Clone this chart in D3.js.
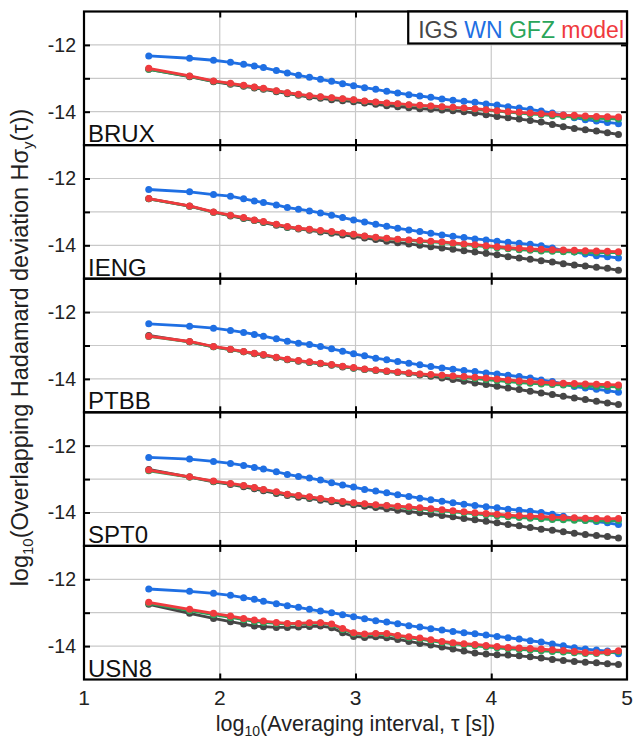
<!DOCTYPE html>
<html>
<head>
<meta charset="utf-8">
<script src="https://cdn.jsdelivr.net/npm/d3@7"></script>
<style>
  html, body { margin: 0; padding: 0; background: #fff; }
  svg { display: block; font-family: "Liberation Sans", Arial, Helvetica, sans-serif; }
</style>
</head>
<body>
<svg id="chart" width="633" height="739"></svg>
<script>
// log10 of averaging interval tau [s]
const logTau = [1.477, 1.778, 1.954, 2.079, 2.176, 2.255, 2.322,
  2.417, 2.498, 2.580, 2.661, 2.742, 2.824, 2.905, 2.986, 3.067, 3.149,
  3.230, 3.311, 3.393, 3.474, 3.555, 3.637, 3.718, 3.799, 3.880, 3.962,
  4.043, 4.124, 4.206, 4.287, 4.368, 4.450, 4.531, 4.612, 4.693, 4.775,
  4.856, 4.937];

const stations = ["BRUX", "IENG", "PTBB", "SPT0", "USN8"];
const seriesNames = ["IGS", "WN", "GFZ", "model"];
const seriesColors = ["#464646", "#1f6fe3", "#2aa55a", "#f03a3e"];

const xTicks = [1, 2, 3, 4, 5];
const yTicks = [-12, -13, -14];
const yTickLabels = ["-12", "", "-14"];

// log10 overlapping Hadamard deviation per station: IGS, WN, GFZ, model
const bruxIGS = [-12.73,-12.95,-13.10,-13.18,-13.24,-13.29,-13.33,-13.40,-13.46,-13.51,-13.56,-13.60,-13.64,-13.67,-13.70,-13.74,-13.78,-13.82,-13.85,-13.88,-13.91,-13.93,-13.95,-13.97,-14.00,-14.04,-14.09,-14.14,-14.18,-14.22,-14.26,-14.31,-14.38,-14.45,-14.50,-14.54,-14.58,-14.63,-14.68];
const bruxWN = [-12.33,-12.40,-12.46,-12.52,-12.58,-12.63,-12.68,-12.77,-12.84,-12.91,-12.97,-13.03,-13.09,-13.16,-13.22,-13.28,-13.33,-13.39,-13.44,-13.49,-13.53,-13.57,-13.62,-13.66,-13.69,-13.72,-13.77,-13.80,-13.85,-13.89,-13.93,-13.98,-14.04,-14.10,-14.18,-14.24,-14.28,-14.32,-14.36];
const bruxGFZ = [-12.73,-12.94,-13.09,-13.16,-13.22,-13.27,-13.31,-13.38,-13.44,-13.49,-13.53,-13.56,-13.59,-13.62,-13.65,-13.69,-13.72,-13.75,-13.77,-13.80,-13.82,-13.84,-13.86,-13.88,-13.90,-13.92,-13.95,-13.98,-14.01,-14.04,-14.07,-14.09,-14.12,-14.14,-14.16,-14.18,-14.20,-14.21,-14.22];
const bruxModel = [-12.70,-12.93,-13.08,-13.15,-13.21,-13.26,-13.30,-13.37,-13.43,-13.48,-13.52,-13.55,-13.58,-13.61,-13.64,-13.68,-13.71,-13.74,-13.76,-13.79,-13.81,-13.83,-13.85,-13.87,-13.89,-13.91,-13.94,-13.97,-14.00,-14.02,-14.04,-14.06,-14.08,-14.10,-14.11,-14.13,-14.14,-14.15,-14.16];

const iengIGS = [-12.61,-12.83,-13.01,-13.12,-13.20,-13.26,-13.32,-13.40,-13.47,-13.51,-13.55,-13.60,-13.64,-13.69,-13.73,-13.78,-13.83,-13.88,-13.92,-13.96,-14.00,-14.04,-14.08,-14.12,-14.16,-14.20,-14.24,-14.28,-14.34,-14.38,-14.42,-14.46,-14.50,-14.55,-14.59,-14.62,-14.66,-14.69,-14.75];
const iengWN = [-12.33,-12.40,-12.48,-12.53,-12.61,-12.67,-12.72,-12.79,-12.87,-12.92,-12.97,-13.03,-13.10,-13.17,-13.24,-13.30,-13.37,-13.43,-13.49,-13.54,-13.59,-13.64,-13.69,-13.73,-13.77,-13.81,-13.84,-13.88,-13.91,-13.94,-13.97,-14.01,-14.08,-14.16,-14.20,-14.26,-14.31,-14.34,-14.38];
const iengGFZ = [-12.61,-12.83,-13.01,-13.11,-13.18,-13.25,-13.30,-13.38,-13.45,-13.50,-13.53,-13.57,-13.60,-13.64,-13.68,-13.73,-13.77,-13.80,-13.83,-13.85,-13.88,-13.90,-13.92,-13.95,-13.98,-14.01,-14.04,-14.07,-14.10,-14.13,-14.15,-14.17,-14.18,-14.19,-14.20,-14.21,-14.22,-14.22,-14.22];
const iengModel = [-12.60,-12.82,-13.00,-13.10,-13.17,-13.24,-13.29,-13.37,-13.44,-13.49,-13.52,-13.56,-13.59,-13.63,-13.67,-13.72,-13.76,-13.79,-13.82,-13.84,-13.86,-13.88,-13.90,-13.93,-13.96,-13.98,-14.01,-14.04,-14.07,-14.09,-14.11,-14.12,-14.13,-14.14,-14.15,-14.16,-14.17,-14.18,-14.19];

const ptbbIGS = [-12.70,-12.89,-13.04,-13.12,-13.19,-13.25,-13.29,-13.37,-13.43,-13.47,-13.51,-13.55,-13.59,-13.64,-13.68,-13.72,-13.75,-13.78,-13.81,-13.84,-13.88,-13.92,-13.97,-14.02,-14.07,-14.12,-14.17,-14.22,-14.27,-14.32,-14.37,-14.42,-14.47,-14.52,-14.57,-14.62,-14.67,-14.72,-14.77];
const ptbbWN = [-12.35,-12.42,-12.48,-12.55,-12.61,-12.67,-12.72,-12.80,-12.87,-12.93,-12.97,-13.03,-13.10,-13.17,-13.25,-13.31,-13.38,-13.43,-13.48,-13.53,-13.58,-13.63,-13.67,-13.71,-13.75,-13.78,-13.82,-13.85,-13.89,-13.93,-13.97,-14.03,-14.08,-14.15,-14.23,-14.27,-14.31,-14.35,-14.40];
const ptbbGFZ = [-12.73,-12.89,-13.04,-13.12,-13.19,-13.24,-13.28,-13.36,-13.42,-13.46,-13.50,-13.54,-13.58,-13.63,-13.67,-13.71,-13.74,-13.77,-13.80,-13.83,-13.86,-13.88,-13.91,-13.93,-13.96,-13.99,-14.02,-14.05,-14.08,-14.11,-14.13,-14.15,-14.17,-14.18,-14.20,-14.21,-14.22,-14.23,-14.24];
const ptbbModel = [-12.72,-12.88,-13.03,-13.11,-13.18,-13.23,-13.27,-13.35,-13.41,-13.45,-13.49,-13.53,-13.57,-13.62,-13.66,-13.70,-13.73,-13.76,-13.79,-13.82,-13.85,-13.87,-13.89,-13.91,-13.93,-13.95,-13.97,-14.00,-14.03,-14.06,-14.08,-14.10,-14.12,-14.13,-14.14,-14.15,-14.16,-14.17,-14.18];

const spt0IGS = [-12.71,-12.94,-13.08,-13.16,-13.23,-13.29,-13.35,-13.43,-13.49,-13.54,-13.58,-13.63,-13.68,-13.73,-13.77,-13.81,-13.85,-13.89,-13.93,-13.97,-14.01,-14.05,-14.09,-14.13,-14.18,-14.22,-14.26,-14.31,-14.36,-14.40,-14.45,-14.50,-14.53,-14.58,-14.62,-14.66,-14.69,-14.72,-14.76];
const spt0WN = [-12.35,-12.40,-12.47,-12.53,-12.59,-12.65,-12.70,-12.78,-12.86,-12.92,-12.97,-13.03,-13.11,-13.18,-13.24,-13.31,-13.36,-13.41,-13.47,-13.52,-13.57,-13.62,-13.66,-13.71,-13.75,-13.79,-13.83,-13.86,-13.90,-13.93,-13.96,-14.00,-14.05,-14.11,-14.18,-14.23,-14.27,-14.31,-14.36];
const spt0GFZ = [-12.75,-12.94,-13.07,-13.14,-13.20,-13.26,-13.32,-13.39,-13.46,-13.50,-13.54,-13.59,-13.64,-13.68,-13.72,-13.75,-13.78,-13.80,-13.83,-13.86,-13.89,-13.92,-13.95,-13.98,-14.01,-14.04,-14.07,-14.10,-14.13,-14.15,-14.17,-14.19,-14.21,-14.22,-14.23,-14.24,-14.25,-14.25,-14.24];
const spt0Model = [-12.73,-12.93,-13.06,-13.13,-13.19,-13.25,-13.31,-13.38,-13.45,-13.49,-13.53,-13.58,-13.63,-13.67,-13.71,-13.74,-13.77,-13.79,-13.81,-13.83,-13.86,-13.89,-13.92,-13.95,-13.98,-14.01,-14.03,-14.05,-14.08,-14.10,-14.11,-14.12,-14.14,-14.15,-14.16,-14.17,-14.18,-14.19,-14.18];

const usn8IGS = [-12.75,-13.02,-13.17,-13.27,-13.34,-13.40,-13.42,-13.44,-13.44,-13.43,-13.41,-13.40,-13.45,-13.60,-13.71,-13.74,-13.72,-13.75,-13.80,-13.86,-13.92,-13.97,-14.03,-14.09,-14.15,-14.21,-14.24,-14.26,-14.27,-14.29,-14.32,-14.36,-14.40,-14.43,-14.46,-14.48,-14.50,-14.53,-14.55];
const usn8WN = [-12.29,-12.36,-12.42,-12.48,-12.55,-12.60,-12.66,-12.73,-12.79,-12.84,-12.90,-12.95,-13.00,-13.06,-13.12,-13.18,-13.24,-13.28,-13.33,-13.39,-13.43,-13.48,-13.52,-13.56,-13.60,-13.63,-13.67,-13.71,-13.75,-13.79,-13.84,-13.88,-13.94,-13.99,-14.05,-14.09,-14.12,-14.15,-14.23];
const usn8GFZ = [-12.72,-12.94,-13.06,-13.14,-13.21,-13.26,-13.29,-13.32,-13.34,-13.34,-13.32,-13.31,-13.36,-13.50,-13.62,-13.66,-13.64,-13.65,-13.70,-13.75,-13.79,-13.84,-13.89,-13.93,-13.96,-13.99,-14.02,-14.05,-14.08,-14.10,-14.12,-14.14,-14.16,-14.18,-14.20,-14.22,-14.22,-14.20,-14.17];
const usn8Model = [-12.69,-12.90,-13.02,-13.10,-13.17,-13.22,-13.25,-13.29,-13.32,-13.32,-13.30,-13.30,-13.34,-13.47,-13.60,-13.64,-13.62,-13.62,-13.68,-13.72,-13.76,-13.81,-13.86,-13.90,-13.93,-13.95,-13.98,-14.01,-14.04,-14.06,-14.07,-14.09,-14.11,-14.13,-14.16,-14.19,-14.20,-14.18,-14.14];

const panelSeries = [
  [bruxIGS, bruxWN, bruxGFZ, bruxModel],
  [iengIGS, iengWN, iengGFZ, iengModel],
  [ptbbIGS, ptbbWN, ptbbGFZ, ptbbModel],
  [spt0IGS, spt0WN, spt0GFZ, spt0Model],
  [usn8IGS, usn8WN, usn8GFZ, usn8Model]
];

// ---- layout ----
const plotLeft = 84, plotRight = 627, plotTop = 11.5, plotBottom = 679.5;
const panelH = (plotBottom - plotTop) / stations.length;
const tickLen = 6;

const svg = d3.select("#chart");
const x = d3.scaleLinear().domain([1, 5]).range([plotLeft, plotRight]);

const makeLine = (ys) => d3.line().x(d => x(d[0])).y(d => ys(d[1]));

stations.forEach((name, p) => {
  const y0 = plotTop + p * panelH;
  const y = d3.scaleLinear().domain([-11, -15]).range([y0, y0 + panelH]);
  const g = svg.append("g").attr("class", "panel");

  // grid
  g.append("g").selectAll("line").data([2, 3, 4]).join("line")
    .attr("x1", d => x(d)).attr("x2", d => x(d))
    .attr("y1", y0).attr("y2", y0 + panelH)
    .attr("stroke", "#c9c9c9").attr("stroke-width", 1.2);
  g.append("g").selectAll("line").data(yTicks).join("line")
    .attr("x1", plotLeft).attr("x2", plotRight)
    .attr("y1", d => y(d)).attr("y2", d => y(d))
    .attr("stroke", "#c9c9c9").attr("stroke-width", 1.2);

  // series
  const clipId = "clip" + p;
  svg.append("clipPath").attr("id", clipId).append("rect")
    .attr("x", plotLeft).attr("y", y0).attr("width", plotRight - plotLeft).attr("height", panelH);
  const data = panelSeries[p];
  const sg = g.append("g").attr("clip-path", `url(#${clipId})`);
  data.forEach((vals, s) => {
    const pts = logTau.map((t, i) => [t, vals[i]]);
    sg.append("path").datum(pts)
      .attr("d", makeLine(y))
      .attr("fill", "none").attr("stroke", seriesColors[s])
      .attr("stroke-width", 2.8).attr("stroke-linejoin", "round");
    sg.append("g").selectAll("circle").data(pts).join("circle")
      .attr("cx", d => x(d[0])).attr("cy", d => y(d[1]))
      .attr("r", 3.5).attr("fill", seriesColors[s]);
  });

  // y axis left and right (ticks inside)
  const yl = d3.axisRight(y).tickValues(yTicks).tickSize(tickLen).tickFormat("");
  g.append("g").attr("transform", `translate(${plotLeft},0)`).call(yl)
    .call(a => a.select(".domain").remove())
    .call(a => a.selectAll("line").attr("stroke", "#000").attr("stroke-width", 2));
  const yr = d3.axisLeft(y).tickValues(yTicks).tickSize(tickLen).tickFormat("");
  g.append("g").attr("transform", `translate(${plotRight},0)`).call(yr)
    .call(a => a.select(".domain").remove())
    .call(a => a.selectAll("line").attr("stroke", "#000").attr("stroke-width", 2));

  // tick labels on the left
  g.append("g").selectAll("text").data(yTicks.map((v, i) => [v, yTickLabels[i]]).filter(d => d[1]))
    .join("text")
    .attr("x", plotLeft - 8).attr("y", d => y(d[0]))
    .attr("dy", "0.35em").attr("text-anchor", "end")
    .attr("font-size", 19.5).attr("fill", "#222")
    .text(d => d[1]);

  // x ticks top and bottom (inside)
  const xb = d3.axisTop(x).tickValues([2, 3, 4]).tickSize(tickLen).tickFormat("");
  g.append("g").attr("transform", `translate(0,${y0 + panelH})`).call(xb)
    .call(a => a.select(".domain").remove())
    .call(a => a.selectAll("line").attr("stroke", "#000").attr("stroke-width", 2));
  const xtop = d3.axisBottom(x).tickValues([2, 3, 4]).tickSize(tickLen).tickFormat("");
  g.append("g").attr("transform", `translate(0,${y0})`).call(xtop)
    .call(a => a.select(".domain").remove())
    .call(a => a.selectAll("line").attr("stroke", "#000").attr("stroke-width", 2));

  // frame
  g.append("rect").attr("x", plotLeft).attr("y", y0)
    .attr("width", plotRight - plotLeft).attr("height", panelH)
    .attr("fill", "none").attr("stroke", "#000").attr("stroke-width", 2.2);

  // station name
  g.append("text").attr("x", plotLeft + 4).attr("y", y0 + panelH - 3)
    .attr("font-size", 24).attr("fill", "#111").text(name);
});

// legend in the first panel
const leg = svg.append("g");
const legText = leg.append("text").attr("y", plotTop + 26).attr("font-size", 23);
seriesNames.forEach((n, i) => {
  legText.append("tspan").attr("fill", seriesColors[i]).text((i ? " " : "") + n);
});
const tw = legText.node().getComputedTextLength();
const legRight = plotRight - 3;
legText.attr("x", legRight - tw);
leg.insert("rect", "text")
  .attr("x", legRight - tw - 10).attr("y", plotTop)
  .attr("width", plotRight - (legRight - tw - 10)).attr("height", 32)
  .attr("fill", "#fff").attr("stroke", "#000").attr("stroke-width", 2.2);

// x axis labels
svg.append("g").selectAll("text").data(xTicks).join("text")
  .attr("x", d => x(d)).attr("y", plotBottom + 25)
  .attr("text-anchor", "middle").attr("font-size", 21).attr("fill", "#222")
  .text(d => d);

// x axis title
const xTitle = svg.append("text").attr("x", (plotLeft + plotRight) / 2).attr("y", plotBottom + 51)
  .attr("text-anchor", "middle").attr("font-size", 21.5).attr("fill", "#222");
xTitle.append("tspan").text("log");
xTitle.append("tspan").attr("font-size", 14).attr("dy", 5).text("10");
xTitle.append("tspan").attr("dy", -5).text("(Averaging interval, τ [s])");

// y axis title
const yTitle = svg.append("text")
  .attr("transform", `translate(28,${(plotTop + plotBottom) / 2 + 2}) rotate(-90)`)
  .attr("text-anchor", "middle").attr("font-size", 23.5).attr("fill", "#222");
yTitle.append("tspan").text("log");
yTitle.append("tspan").attr("font-size", 15).attr("dy", 5).text("10");
yTitle.append("tspan").attr("dy", -5).text("(Overlapping Hadamard deviation Hσ");
yTitle.append("tspan").attr("font-size", 15).attr("dy", 5).text("y");
yTitle.append("tspan").attr("dy", -5).text("(τ))");
</script>
</body>
</html>
